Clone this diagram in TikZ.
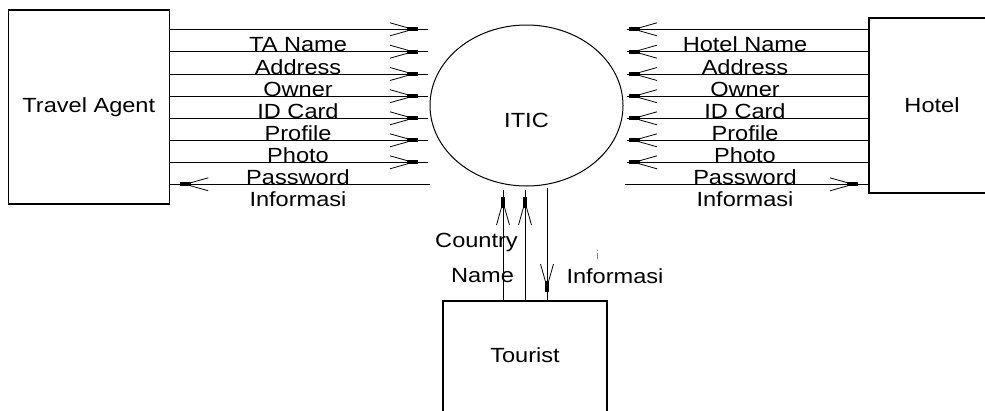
\documentclass[tikz,border=0pt]{standalone}
\usepackage{fontspec}
\setmainfont[FakeStretch=1.15]{Liberation Sans}
\usetikzlibrary{shapes.geometric,decorations.markings}
\newcommand{\dfdtip}{%
  \fill (-11pt,-2.1pt) rectangle (0pt,2.1pt);
  \draw[line width=0.8pt] (-28pt,6.5pt) -- (-10pt,1.4pt);
  \draw[line width=0.8pt] (-28pt,-6.5pt) -- (-10pt,-1.4pt);
}
\tikzset{
  box/.style={draw, line width=1.2pt, rectangle, inner sep=0pt, outer sep=0pt, anchor=north west},
  flow/.style={line width=1pt, postaction={decorate}, decoration={markings, mark=at position #1 with {\dfdtip}}},
  lbl/.style={anchor=base, inner sep=0pt},
  every node/.append style={font=\fontsize{20.5}{24}\selectfont}
}
\begin{document}
\begin{tikzpicture}[x=1pt,y=-1pt]
\useasboundingbox (0,0) rectangle (985,410);
\clip (0,0) rectangle (985,410);
% entities
\node[box, minimum width=161pt, minimum height=194pt] (ta) at (8.3,10) {Travel Agent};
\node[box, minimum width=126pt, minimum height=175pt] (hotel) at (869,18) {Hotel};
\node[box, minimum width=164pt, minimum height=114pt] (tourist) at (443,301) {};
\node (touristtext) at (525,355) {Tourist};
% process
\node[ellipse, draw, line width=1pt, minimum width=193pt, minimum height=161pt, inner sep=0pt] (itic) at (526.5,105.5) {};
\node (itictext) at ([yshift=-14.5pt]itic.center) {ITIC};
% Travel Agent -> ITIC
\foreach \y [count=\i] in {29.3,51.7,74,96.2,118.3,140.3,162.3} {
  \coordinate (le\i) at (428,\y);
  \draw[flow=-10pt] (le\i -| ta.east) -- (le\i);
}
% Hotel -> ITIC
\foreach \y [count=\i] in {29.3,51.7,74,96.2,118.3,140.3,162.3} {
  \coordinate (re\i) at (627,\y);
  \draw[flow=-2pt] (re\i -| hotel.west) -- (re\i);
}
% ITIC -> entities
\coordinate (lp) at (430,184.3);
\draw[flow=-11pt] (lp) -- (lp -| ta.east);
\coordinate (rp) at (625,184.3);
\draw[flow=-11pt] (rp) -- (rp -| hotel.west);
% Tourist
\coordinate (t1) at (503,190);
\draw[flow=-7pt] (t1 |- tourist.north) -- (t1);
\coordinate (t2) at (525,190);
\draw[flow=-7pt] (t2 |- tourist.north) -- (t2);
\coordinate (t3) at (547,188);
\draw[flow=-9pt] (t3) -- (t3 |- tourist.north);
% labels left
\foreach \t/\y [count=\i] in {TA Name/51.7, Address/74, Owner/96.2, ID Card/118.3, Profile/140.3, Photo/162.3, Password/184.3, Informasi/206} {
  \node[lbl] (ll\i) at (298,\y) {\t};
}
% labels right
\foreach \t/\y [count=\i] in {Hotel Name/51.7, Address/74, Owner/96.2, ID Card/118.3, Profile/140.3, Photo/162.3, Password/184.3, Informasi/206} {
  \node[lbl] (rl\i) at (745,\y) {\t};
}
\node[lbl] (country) at (476.5,247.3) {Country};
\node[lbl] (name) at (482.5,282) {Name};
\node[lbl] (tinfo) at (615,283) {Informasi};
% stray mark
\fill[gray] (596.6,250) rectangle (597.8,251.4);
\fill[gray] (596.6,253) rectangle (597.8,258.5);
\end{tikzpicture}
\end{document}
